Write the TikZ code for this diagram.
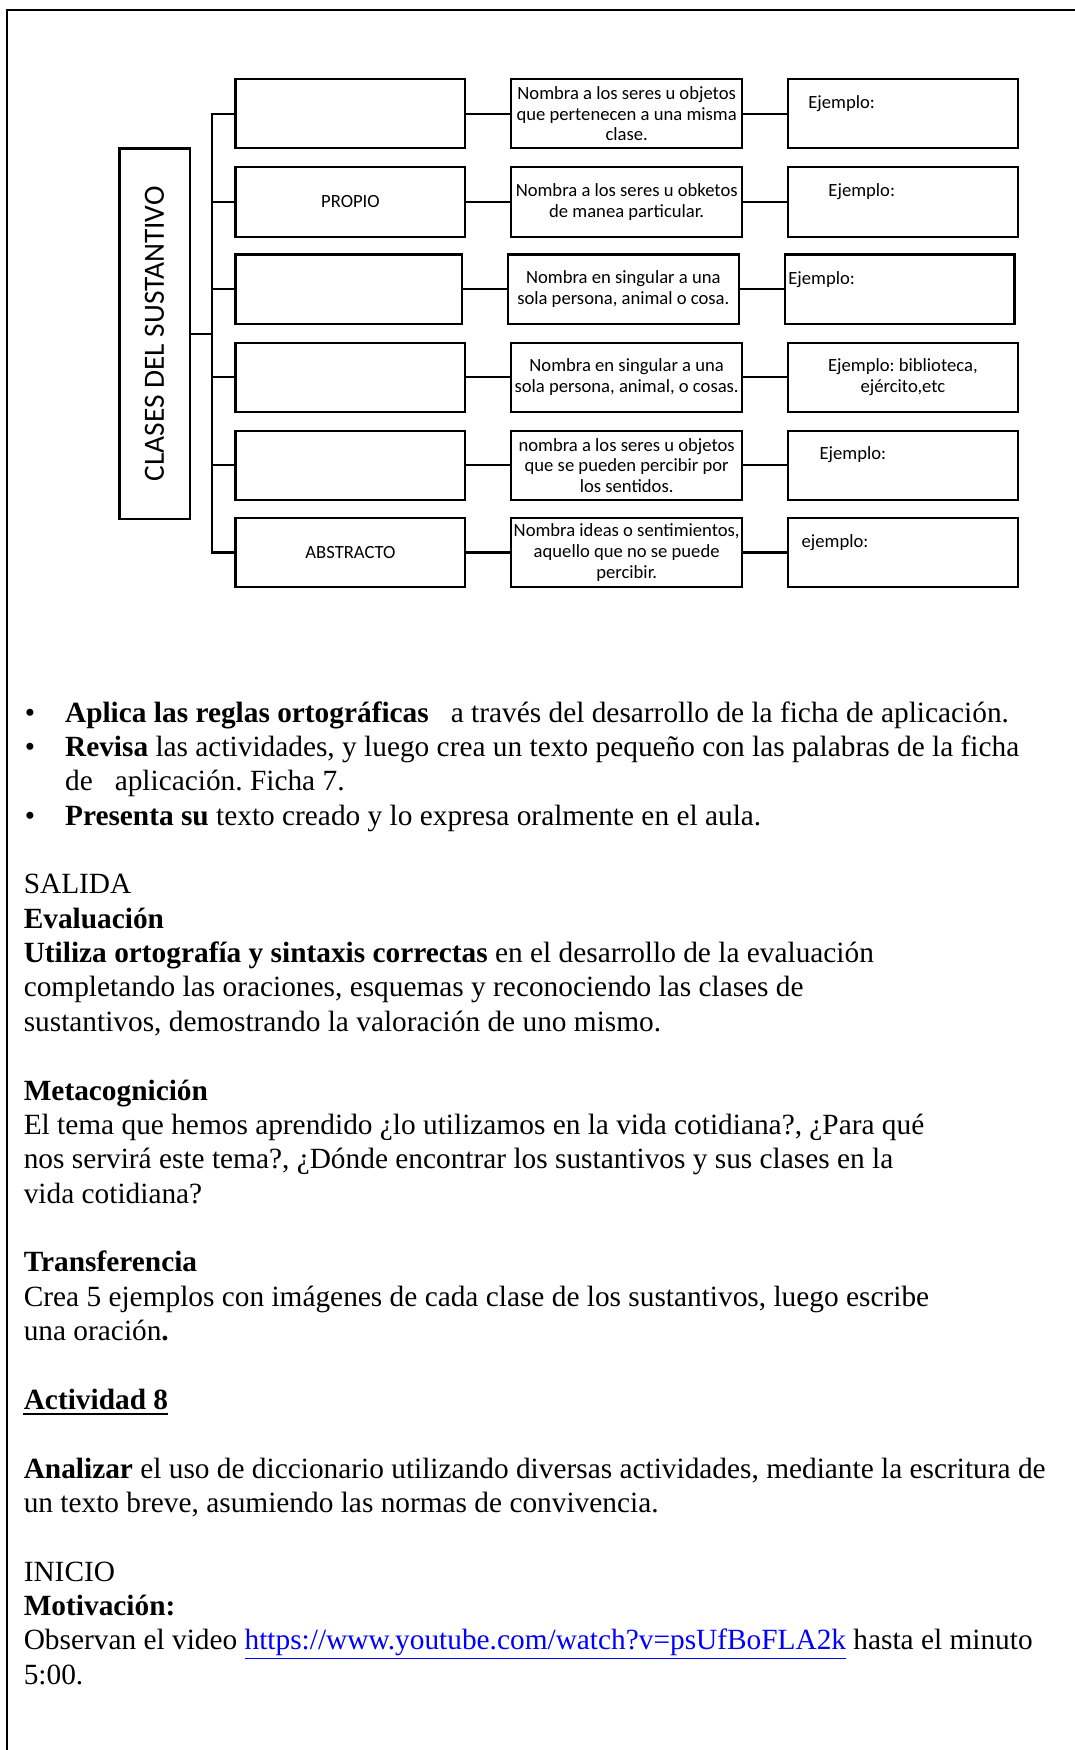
\documentclass[tikz,border=0pt]{standalone}
\usepackage{fontspec}
\setmainfont{Liberation Serif}
\newfontfamily\diagfont{Carlito}
\usepackage{xcolor}
\usepackage{tikz}
\usetikzlibrary{calc}

\newdimen\pxu
\pxu=0.022326cm
\newcommand{\bodysize}{\fontsize{16.7}{19.5}\selectfont\frenchspacing}
\newcommand{\boxsize}{\diagfont\fontsize{10.6}{11.8}\selectfont\frenchspacing}

\tikzset{
  frame/.style={line width=1.5pt},
  clasebox/.style={draw, line width=1.2pt, minimum width=206*\pxu, minimum height=62*\pxu,
    inner sep=0pt, align=center, font=\boxsize},
  link/.style={line width=1.2pt},
  ejtext/.style={anchor=base west, inner sep=0pt, font=\boxsize},
  body/.style={anchor=base west, inner sep=0pt, font=\bodysize},
}

\begin{document}
\begin{tikzpicture}[x=0.022326cm, y=-0.022326cm]
\useasboundingbox (0,0) rectangle (963,1568);

% page frame
\draw[frame] (6.3,1568) -- (6.3,9) -- (963,9);

% esquema
\node[draw, line width=1.3pt, rotate=90, minimum width=332*\pxu, minimum height=63*\pxu,
  font=\diagfont\fontsize{16.7}{20}\selectfont] (clases) at (138.5,299) {CLASES DEL SUSTANTIVO};

\node[clasebox] (clase1) at (314,102) {};
\node[clasebox] (clase2) at (314,181) {PROPIO};
\node[clasebox, minimum width=203*\pxu] (clase3) at (312.5,259) {};
\node[clasebox] (clase4) at (314,338) {};
\node[clasebox] (clase5) at (314,417) {};
\node[clasebox] (clase6) at (314,495) {ABSTRACTO};

\node[clasebox, minimum width=207*\pxu] (def1) at (561.5,102) {Nombra a los seres u objetos\\que pertenecen a una misma\\clase.};
\node[clasebox, minimum width=207*\pxu] (def2) at (561.5,181) {Nombra a los seres u obketos\\de manea particular.};
\node[clasebox, minimum width=207*\pxu] (def3) at (558.5,259) {Nombra en singular a una\\sola persona, animal o cosa.};
\node[clasebox, minimum width=207*\pxu] (def4) at (561.5,338) {Nombra en singular a una\\sola persona, animal, o cosas.};
\node[clasebox, minimum width=207*\pxu] (def5) at (561.5,417) {nombra a los seres u objetos\\que se pueden percibir por\\los sentidos.};
\node[clasebox, minimum width=207*\pxu] (def6) at (561.5,495) {Nombra ideas o sentimientos,\\aquello que no se puede\\percibir.};

\node[clasebox] (ej1) at (809,102) {};
\node[clasebox] (ej2) at (809,181) {};
\node[clasebox] (ej3) at (806,259) {};
\node[clasebox] (ej4) at (809,338) {Ejemplo: biblioteca,\\ejército,etc};
\node[clasebox] (ej5) at (809,417) {};
\node[clasebox] (ej6) at (809,495) {};

\node[ejtext] (ejtxt1) at (724,97) {Ejemplo:};
\node[ejtext] (ejtxt2) at (742,176) {Ejemplo:};
\node[ejtext] (ejtxt3) at (706,255) {Ejemplo:};
\node[ejtext] (ejtxt5) at (734,412) {Ejemplo:};
\node[ejtext] (ejtxt6) at (718,491) {ejemplo:};

\coordinate (spine) at (190,0);
\draw[link] (clases.south) -- (clases.south -| spine);
\draw[link] (clase1.west) -- (clase1.west -| spine) -- (clase6.west -| spine) -- (clase6.west);
\foreach \i in {2,...,5}
  \draw[link] (clase\i.west -| spine) -- (clase\i.west);
\foreach \i in {1,...,6} {
  \draw[link] (clase\i) -- (def\i);
  \draw[link] (def\i) -- (ej\i);
}

% texto
\node[body] (bul1) at (22,647.0) {•};
\node[body] (aplica) at (58,647.0) {\textbf{Aplica las reglas ortográficas}\ \ \ a través del desarrollo de la ficha de aplicación.};
\node[body] (bul2) at (22,677.8) {•};
\node[body] (revisa) at (58,677.8) {\textbf{Revisa} las actividades, y luego crea un texto pequeño con las palabras de la ficha};
\node[body] (revisa2) at (58,708.6) {de\ \ \ aplicación. Ficha 7.};
\node[body] (bul3) at (22,739.4) {•};
\node[body] (presenta) at (58,739.4) {\textbf{Presenta su} texto creado y lo expresa oralmente en el aula.};

\node[body] (salida) at (21,801.0) {SALIDA};
\node[body] (evaluacion) at (21,831.7) {\textbf{Evaluación}};
\node[body] (utiliza1) at (21,862.5) {\textbf{Utiliza ortografía y sintaxis correctas} en el desarrollo de la evaluación};
\node[body] (utiliza2) at (21,893.3) {completando las oraciones, esquemas y reconociendo las clases de};
\node[body] (utiliza3) at (21,924.1) {sustantivos, demostrando la valoración de uno mismo.};

\node[body] (metacog) at (21,985.7) {\textbf{Metacognición}};
\node[body] (tema1) at (21,1016.5) {El tema que hemos aprendido ¿lo utilizamos en la vida cotidiana?, ¿Para qué};
\node[body] (tema2) at (21,1047.3) {nos servirá este tema?, ¿Dónde encontrar los sustantivos y sus clases en la};
\node[body] (tema3) at (21,1078.1) {vida cotidiana?};

\node[body] (transf) at (21,1139.6) {\textbf{Transferencia}};
\node[body] (crea1) at (21,1170.4) {Crea 5 ejemplos con imágenes de cada clase de los sustantivos, luego escribe};
\node[body] (crea2) at (21,1201.2) {una oración\textbf{.}};

\node[body] (actividad) at (21,1262.8) {\textbf{Actividad 8}};
\draw[line width=1.2pt] ([yshift=-2.5pt]actividad.base west) -- ([yshift=-2.5pt]actividad.base east);

\node[body] (analizar1) at (21,1324.4) {\textbf{Analizar} el uso de diccionario utilizando diversas actividades, mediante la escritura de};
\node[body] (analizar2) at (21,1355.2) {un texto breve, asumiendo las normas de convivencia.};

\node[body] (inicio) at (21,1416.8) {INICIO};
\node[body] (motiv) at (21,1447.5) {\textbf{Motivación:}};
\node[body] (observan) at (21,1478.3) {Observan el video \textcolor{blue}{\underline{https://www.youtube.com/watch?v=psUfBoFLA2k}} hasta el minuto};
\node[body] (minuto) at (21,1509.1) {5:00.};
\end{tikzpicture}
\end{document}
